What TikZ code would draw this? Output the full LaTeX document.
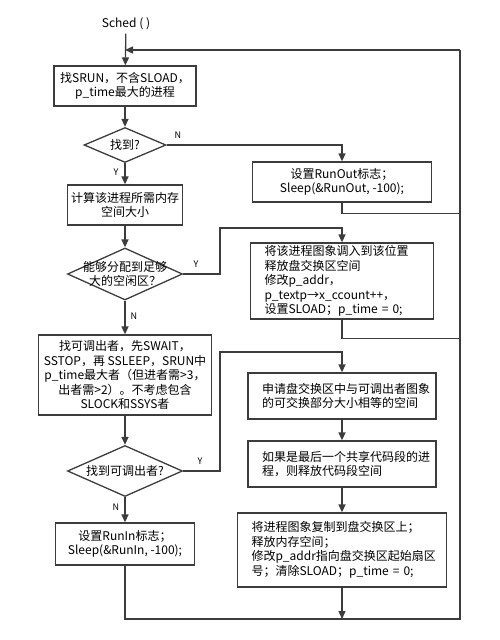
\documentclass[tikz,border=0pt]{standalone}
\usepackage{fontspec}
\setmainfont{Noto Sans CJK SC}
\usetikzlibrary{shapes.geometric,arrows.meta}
\definecolor{linegray}{RGB}{60,60,60}

\begin{document}
\begin{tikzpicture}[x=1pt,y=-1pt,
  font=\fontsize{12}{14.5}\selectfont,
  box/.style={draw=linegray,line width=1.3pt,align=center,inner sep=2pt},
  lbox/.style={draw=linegray,line width=1.3pt,align=left,inner xsep=14pt,inner ysep=2pt},
  cond/.style={draw=linegray,line width=1.3pt,diamond,inner sep=0pt},
  yn/.style={font=\fontsize{9}{10}\selectfont},
  link/.style={draw=linegray,line width=1.3pt},
  arr/.style={link,-{Triangle[length=8pt,width=7pt]}}]
\useasboundingbox (0,0) rectangle (500,640);
\node (sched) at (126,24) {Sched ( )};
\node[box,minimum width=142pt,minimum height=40pt] (find) at (125,86) {找SRUN，不含SLOAD，\\p\_time最大的进程};
\node[cond,minimum width=82pt,minimum height=35pt,label=center:{找到?}] (d1) at (125,145) {};
\node[box,minimum width=179pt,minimum height=40pt] (runout) at (342,182) {设置RunOut标志；\\Sleep(\&RunOut, -100);};
\node[box,minimum width=115pt,minimum height=40pt] (calc) at (125,205) {计算该进程所需内存\\空间大小};
\node[cond,minimum width=115pt,minimum height=52pt,label=center:{\parbox{90pt}{\centering 能够分配到足够\\大的空闲区？}}] (d2) at (125,274) {};
\node[lbox,text width=155pt,minimum height=76pt] (loadin) at (342,281) {将该进程图象调入到该位置\\释放盘交换区空间\\修改p\_addr，\\p\_textp→x\_ccount++，\\设置SLOAD；p\_time = 0;};
\node[box,minimum width=173pt,minimum height=80pt] (swap) at (125,375) {找可调出者，先SWAIT，\\SSTOP，再 SSLEEP，SRUN中\\p\_time最大者（但进者需>3，\\出者需>2）。不考虑包含\\SLOCK和SSYS者};
\node[cond,minimum width=115pt,minimum height=51pt,label=center:{找到可调出者?}] (d3) at (125,471) {};
\node[lbox,text width=160pt,minimum height=46pt] (apply) at (342,396) {申请盘交换区中与可调出者图象\\的可交换部分大小相等的空间};
\node[lbox,text width=160pt,minimum height=46pt] (share) at (342,464) {如果是最后一个共享代码段的进\\程，则释放代码段空间};
\node[lbox,text width=181pt,minimum height=74pt] (copy) at (342,550) {将进程图象复制到盘交换区上；\\释放内存空间；\\修改p\_addr指向盘交换区起始扇区\\号；清除SLOAD；p\_time = 0;};
\node[box,minimum width=139pt,minimum height=42pt] (runin) at (125,544) {设置RunIn标志；\\Sleep(\&RunIn, -100);};
\coordinate (top) at (460,50);
\coordinate (bot) at (460,619);
\node[yn] (n1) at (178,135) {N};
\node[yn] (y1) at (116,172) {Y};
\node[yn] (y2) at (196,264) {Y};
\node[yn] (n2) at (134,316) {N};
\node[yn] (y3) at (200,461) {Y};
\node[yn] (n3) at (116,507) {N};
\draw[arr] (sched) -- (find);
\draw[arr] (top) -- (find.north |- top);
\draw[arr] (find) -- (d1);
\draw[arr] (d1.east) -| (runout.north);
\draw[link] (runout.south) -- ++(0,11) -| (top);
\draw[arr] (d1) -- (calc);
\draw[arr] (calc) -- (d2);
\draw[arr] (d2.east) -| (220,228) -| (loadin.north);
\draw[link] (loadin.south) -- ++(0,19) -| (top);
\draw[arr] (d2) -- (swap);
\draw[arr] (swap) -- (d3);
\draw[arr] (d3.east) -| (220,352) -| (apply.north);
\draw[arr] (apply) -- (share);
\draw[arr] (share) -- (copy);
\draw[arr] (copy.south) -- (copy.south |- bot);
\draw[arr] (d3) -- (runin);
\draw[link] (runin.south) |- (bot) -- (top);
\end{tikzpicture}
\end{document}
